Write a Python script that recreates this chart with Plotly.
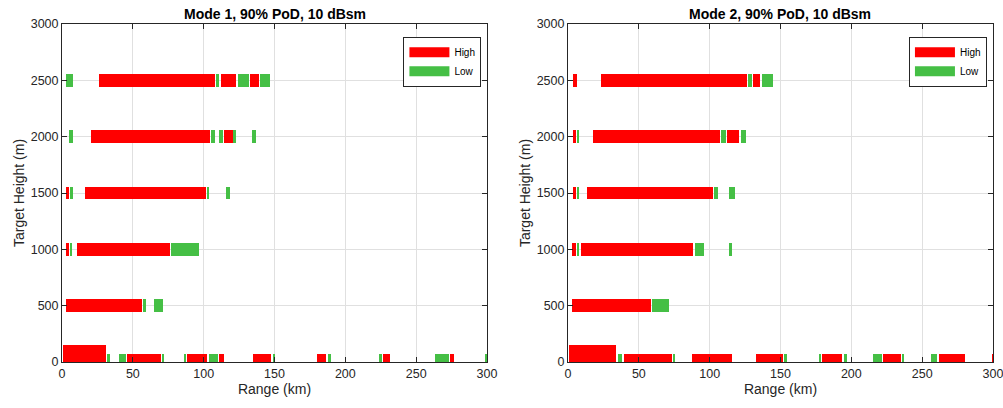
import plotly.graph_objects as go
from plotly.subplots import make_subplots

# Detection coverage segments per target height: start / end range (km) and PoD level
m1_height = [2500, 2500, 2500, 2500, 2500, 2500, 2500,
             2000, 2000, 2000, 2000, 2000, 2000, 2000,
             1500, 1500, 1500, 1500, 1500,
             1000, 1000, 1000, 1000,
             500, 500, 500,
             0, 0, 0, 0, 0, 0, 0, 0, 0, 0, 0, 0, 0, 0, 0, 0, 0, 0]
m1_start = [3.0, 25.8, 108.7, 112.2, 124.0, 132.8, 139.9,
            4.6, 20.4, 105.1, 111.0, 114.1, 121.3, 133.8,
            3.0, 6.1, 15.9, 102.1, 115.5,
            3.0, 6.1, 10.6, 77.2,
            3.0, 57.0, 64.8,
            0.5, 31.9, 39.9, 46.2, 70.8, 86.3, 88.5, 103.5, 111.0, 134.9, 148.6,
            180.3, 187.5, 224.2, 226.5, 263.4, 273.9, 298.9]
m1_end = [7.5, 108.0, 110.8, 123.0, 132.1, 139.0, 146.7,
          7.5, 104.4, 108.0, 113.4, 120.8, 122.5, 137.0,
          5.1, 7.5, 101.4, 103.7, 118.7,
          5.1, 7.3, 76.3, 96.9,
          56.3, 59.4, 71.1,
          31.0, 34.0, 45.1, 69.9, 72.3, 87.5, 102.5, 110.3, 114.3, 147.6, 150.2,
          186.6, 189.9, 225.6, 231.7, 273.0, 277.0, 300.0]
m1_level = ["Low", "High", "Low", "High", "Low", "High", "Low",
            "Low", "High", "Low", "Low", "High", "Low", "Low",
            "High", "Low", "High", "Low", "Low",
            "High", "Low", "High", "Low",
            "High", "Low", "Low",
            "High", "Low", "Low", "High", "Low", "Low", "High", "Low", "High", "High", "Low",
            "High", "Low", "Low", "High", "Low", "High", "Low"]

m2_height = [2500, 2500, 2500, 2500, 2500,
             2000, 2000, 2000, 2000, 2000, 2000,
             1500, 1500, 1500, 1500, 1500,
             1000, 1000, 1000, 1000, 1000,
             500, 500,
             0, 0, 0, 0, 0, 0, 0, 0, 0, 0, 0, 0, 0, 0, 0, 0]
m2_start = [3.5, 23.0, 127.1, 130.6, 136.9,
            3.5, 6.6, 17.6, 107.9, 112.4, 122.0,
            3.5, 6.6, 13.3, 103.2, 113.8,
            2.6, 6.3, 9.4, 89.9, 114.3,
            2.6, 59.5,
            1.0, 35.5, 39.8, 74.4, 87.8, 133.0, 152.5, 177.5, 179.6, 194.7,
            215.4, 222.7, 235.9, 256.4, 262.0, 299.4]
m2_end = [6.1, 126.4, 129.9, 135.8, 144.7,
          5.9, 8.0, 107.2, 111.2, 120.8, 125.3,
          5.7, 8.0, 102.5, 105.8, 117.8,
          5.4, 8.0, 88.5, 96.2, 115.7,
          58.6, 71.6,
          33.7, 37.9, 73.4, 75.8, 115.8, 151.6, 154.4, 178.7, 193.5, 196.8,
          221.5, 235.0, 237.1, 260.6, 280.2, 300.0]
m2_level = ["High", "High", "Low", "High", "Low",
            "High", "Low", "High", "Low", "High", "Low",
            "High", "Low", "High", "Low", "Low",
            "High", "Low", "High", "Low", "Low",
            "High", "Low",
            "High", "Low", "High", "Low", "High", "High", "Low", "Low", "High", "Low",
            "Low", "High", "Low", "Low", "High", "High"]

titles = ["Mode 1, 90% PoD, 10 dBsm", "Mode 2, 90% PoD, 10 dBsm"]
x_ticks = [0, 50, 100, 150, 200, 250, 300]
y_ticks = [0, 500, 1000, 1500, 2000, 2500, 3000]

COLORS = {"High": "#FF0000", "Low": "#45BF45"}
FONT = "Liberation Sans, Arial, sans-serif"
AXIS_GREY = "#262626"

fig = make_subplots(rows=1, cols=2, horizontal_spacing=0.087)


def bar_width(h, s):
    # ground row straddles the axis; the first ground segment is drawn thicker
    if h == 0:
        return 300 if s < 2 else 150
    return 115


panels = [(m1_height, m1_start, m1_end, m1_level), (m2_height, m2_start, m2_end, m2_level)]
for col, (hs, ss, es, lv) in enumerate(panels, start=1):
    for level in ["High", "Low"]:
        idx = [i for i, l in enumerate(lv) if l == level]
        fig.add_trace(go.Bar(
            orientation="h",
            y=[hs[i] for i in idx],
            base=[ss[i] for i in idx],
            x=[es[i] - ss[i] for i in idx],
            width=[bar_width(hs[i], ss[i]) for i in idx],
            marker=dict(color=COLORS[level], line=dict(width=0)),
            showlegend=False,
            hoverinfo="skip",
        ), row=1, col=col)
    legend_name = "legend" if col == 1 else "legend2"
    for level in ["High", "Low"]:
        fig.add_trace(go.Scatter(
            x=[None], y=[None], mode="lines", name=level,
            line=dict(color=COLORS[level], width=10),
            legend=legend_name, showlegend=True,
        ), row=1, col=col)

legend_style = dict(
    y=0.962, xanchor="right", yanchor="top",
    bgcolor="white", bordercolor=AXIS_GREY, borderwidth=1,
    font=dict(size=10, color="#000000"), itemwidth=40, tracegroupgap=0,
)

fig.update_layout(
    width=1003, height=408,
    margin=dict(l=62, r=10, t=24, b=46, autoexpand=False),
    paper_bgcolor="white", plot_bgcolor="white",
    barmode="overlay", bargap=0,
    font=dict(family=FONT, size=13, color=AXIS_GREY),
    legend=dict(x=0.4505, **legend_style),
    legend2=dict(x=0.9935, **legend_style),
)

for col in (1, 2):
    fig.update_xaxes(
        range=[0, 300], tickvals=x_ticks, ticktext=[str(v) for v in x_ticks],
        showgrid=True, gridcolor="#E0E0E0", gridwidth=1,
        showline=True, linecolor=AXIS_GREY, linewidth=1, mirror="ticks",
        ticks="inside", ticklen=5, tickcolor=AXIS_GREY, automargin=False,
        ticklabeloverflow="allow",
        zeroline=False, tickfont=dict(size=12.5, color=AXIS_GREY),
        title=dict(text="Range (km)", font=dict(size=14, color=AXIS_GREY), standoff=4),
        row=1, col=col,
    )
    fig.update_yaxes(
        range=[0, 3000], tickvals=y_ticks, ticktext=[str(v) for v in y_ticks],
        showgrid=True, gridcolor="#E0E0E0", gridwidth=1,
        showline=True, linecolor=AXIS_GREY, linewidth=1, mirror="ticks",
        ticks="inside", ticklen=5, tickcolor=AXIS_GREY, automargin=False,
        ticklabeloverflow="allow",
        zeroline=False, tickfont=dict(size=12.5, color=AXIS_GREY),
        title=dict(text="Target Height (m)", font=dict(size=14, color=AXIS_GREY), standoff=2),
        row=1, col=col,
    )

# panel titles
for col, text in enumerate(titles, start=1):
    xref = "x domain" if col == 1 else "x2 domain"
    fig.add_annotation(
        text=f"<b>{text}</b>", xref=xref, yref="paper", x=0.5, y=1.0,
        xanchor="center", yanchor="bottom", showarrow=False, yshift=0,
        font=dict(family=FONT, size=14, color="#000000"),
    )

fig.write_html("out.html")
